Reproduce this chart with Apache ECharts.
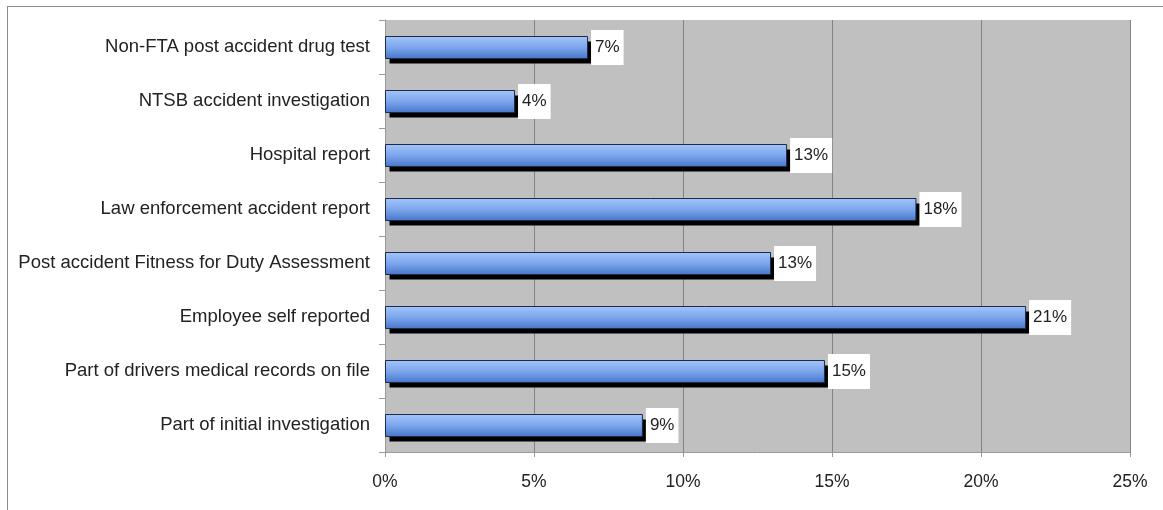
<!DOCTYPE html>
<html>
<head>
<meta charset="utf-8">
<script src="https://cdn.jsdelivr.net/npm/echarts@6/dist/echarts.min.js"></script>
<style>
  html, body { margin: 0; padding: 0; background: #ffffff; overflow: hidden; }
  #frame { position: absolute; left: 7px; top: 6px; width: 1200px; height: 560px; border: 1px solid #8c8c8c; box-sizing: border-box; }
  #chart { position: absolute; left: 0; top: 0; width: 1163px; height: 510px; }
</style>
</head>
<body>
<div id="frame"></div>
<div id="chart"></div>
<script>
// Sources used to identify the condition (share of responses)
const categories = [
  'Non-FTA post accident drug test',
  'NTSB accident investigation',
  'Hospital report',
  'Law enforcement accident report',
  'Post accident Fitness for Duty Assessment',
  'Employee self reported',
  'Part of drivers medical records on file',
  'Part of initial investigation'
];
const shares = [6.78, 4.33, 13.46, 17.8, 12.92, 21.48, 14.73, 8.62];
const tickLabels = ['0%', '5%', '10%', '15%', '20%', '25%'];

const font = '"Liberation Sans", Arial, sans-serif';
const BAR_H = 22;
const chart = echarts.init(document.getElementById('chart'), null, { renderer: 'canvas' });

const barFill = new echarts.graphic.LinearGradient(0, 0, 0, 1, [
  { offset: 0, color: '#a3c5f9' },
  { offset: 0.5, color: '#7ca6ec' },
  { offset: 1, color: '#4676ca' }
]);

// Each bar: a solid black drop shadow behind a gradient rectangle with a value tag.
function renderBar(params, api) {
  const cat = api.value(1);
  const val = api.value(0);
  const p0 = api.coord([0, cat]);
  const p1 = api.coord([val, cat]);
  const x = p0[0] + 0.5;
  const w = p1[0] - p0[0];
  const y = Math.round(p0[1] - BAR_H / 2) + 0.5;
  return {
    type: 'group',
    children: [
      {
        type: 'rect',
        shape: { x: x + 4, y: y + 5, width: w, height: BAR_H },
        style: { fill: '#000000' }
      },
      {
        type: 'rect',
        shape: { x: x, y: y, width: w, height: BAR_H },
        style: { fill: barFill, stroke: '#1c2b4a', lineWidth: 1 },
        textContent: {
          style: {
            text: Math.round(val) + '%',
            fontFamily: font,
            fontSize: 17,
            fill: '#222222',
            backgroundColor: '#ffffff',
            padding: [9, 4, 9, 4]
          }
        },
        textConfig: { position: 'right', distance: 3 }
      }
    ]
  };
}

chart.setOption({
  animation: false,
  backgroundColor: 'transparent',
  grid: {
    left: 385, right: 33, top: 20, bottom: 58,
    show: true, backgroundColor: '#c0c0c0', borderWidth: 0
  },
  xAxis: {
    type: 'value',
    min: 0, max: 25, interval: 5,
    axisLine: { show: true, lineStyle: { color: '#9a9a9a', width: 1 } },
    axisTick: { show: true, length: 5, lineStyle: { color: '#9a9a9a' } },
    splitLine: { show: true, lineStyle: { color: '#828282', width: 1 } },
    axisLabel: {
      margin: 21, fontFamily: font, fontSize: 17.5, color: '#222',
      formatter: v => tickLabels[Math.round(v / 5)]
    }
  },
  yAxis: {
    type: 'category',
    data: categories,
    inverse: true,
    axisLine: { show: true, lineStyle: { color: '#9a9a9a', width: 1 } },
    axisTick: { show: true, length: 6, lineStyle: { color: '#9a9a9a' } },
    axisLabel: { margin: 15, fontFamily: font, fontSize: 18.5, color: '#222' }
  },
  series: [{
    type: 'custom',
    renderItem: renderBar,
    encode: { x: 0, y: 1 },
    data: shares.map((v, i) => [v, i]),
    clip: false
  }]
});
</script>
</body>
</html>
